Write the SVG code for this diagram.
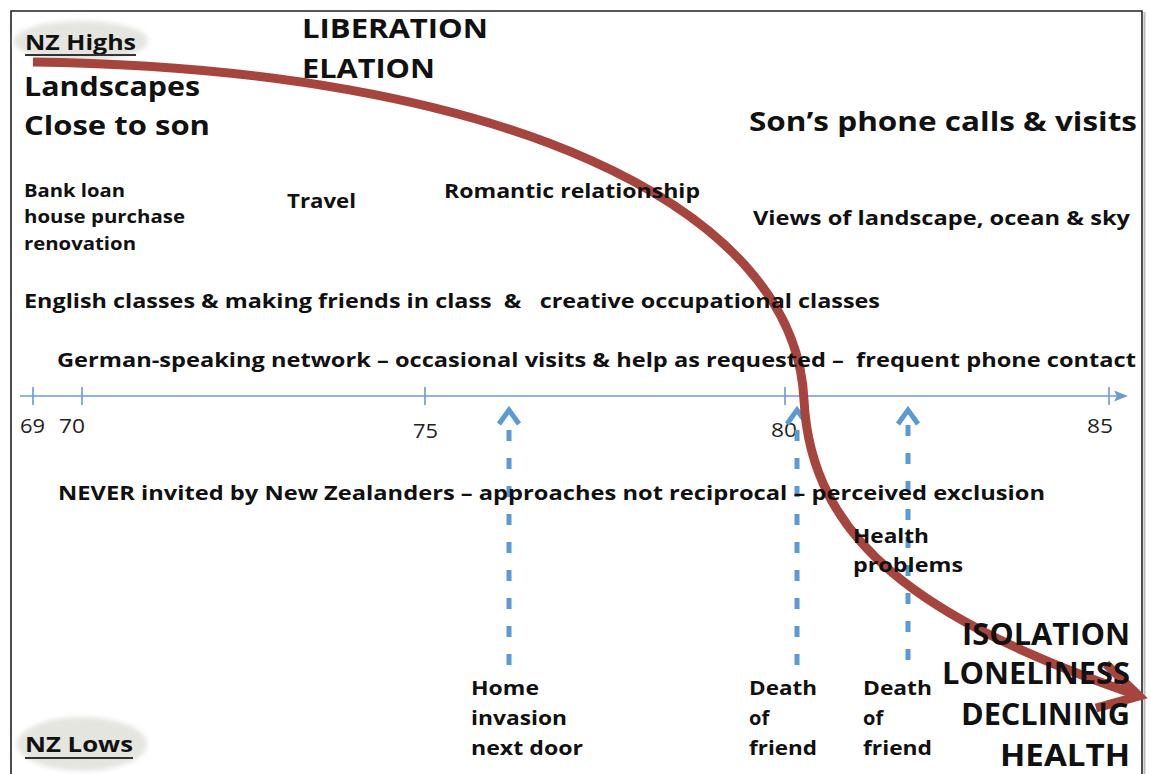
<svg xmlns="http://www.w3.org/2000/svg" width="1151" height="774" viewBox="0 0 1151 774">
  <style>
    text { font-family: "Open Sans", "Liberation Sans", sans-serif; font-weight: bold; fill: #111; }
    .xl { font-size: 27px; }
    .l { font-size: 21px; }
    .m { font-size: 20px; }
    .s { font-size: 18px; }
    .num { font-size: 20px; font-weight: normal; fill: #222; }
    .end { text-anchor: end; font-size: 30px; }
    .pre { white-space: pre; }
    .axis { stroke: #6a9bd3; stroke-width: 1.6; fill: none; }
    .dash { stroke: #5b9bd5; stroke-width: 5; stroke-dasharray: 11 17; fill: none; }
    .head { stroke: #5b9bd5; stroke-width: 5; fill: none; stroke-linejoin: miter; }
    .trend { stroke: #a5453e; stroke-width: 9; fill: none; }
    .badge { fill: #e4e5df; }
  </style>
  <defs>
    <filter id="soft" x="-20%" y="-40%" width="140%" height="180%">
      <feGaussianBlur stdDeviation="2.5"/>
    </filter>
  </defs>

  <rect width="1151" height="774" fill="#ffffff"/>

  <!-- frame, open at the bottom -->
  <path d="M1144.5,12 V790" stroke="#bbbbbb" stroke-width="2" fill="none"/>
  <path d="M11,790 V11 H1142 V790" stroke="#222" stroke-width="1.6" fill="none"/>

  <!-- badges -->
  <g id="nz-highs">
    <ellipse class="badge" cx="81" cy="41" rx="67" ry="20" filter="url(#soft)"/>
    <text x="25" y="50" class="l" textLength="111" lengthAdjust="spacingAndGlyphs">NZ Highs</text>
    <line x1="25" y1="55" x2="136" y2="55" stroke="#333" stroke-width="2"/>
  </g>
  <g id="nz-lows">
    <ellipse class="badge" cx="82" cy="744" rx="65" ry="27" filter="url(#soft)"/>
    <text x="25" y="752" class="l" textLength="108" lengthAdjust="spacingAndGlyphs">NZ Lows</text>
    <line x1="25" y1="758" x2="133" y2="758" stroke="#333" stroke-width="2"/>
  </g>

  <!-- age axis -->
  <g id="axis">
    <line class="axis" x1="20" y1="396" x2="1120" y2="396"/>
    <path d="M1128,396 L1114,390.5 L1117,396 L1114,401.5 Z" fill="#6a9bd3"/>
    <path class="axis" d="M33,387 V405 M82,387 V405 M425,387 V405 M785,387 V405 M1109,387 V405"/>
    <text class="num" x="20" y="433" textLength="25" lengthAdjust="spacingAndGlyphs">69</text>
    <text class="num" x="59" y="433" textLength="26" lengthAdjust="spacingAndGlyphs">70</text>
    <text class="num" x="413" y="438" textLength="25" lengthAdjust="spacingAndGlyphs">75</text>
    <text class="num" x="771" y="437" textLength="26" lengthAdjust="spacingAndGlyphs">80</text>
    <text class="num" x="1087" y="433" textLength="26" lengthAdjust="spacingAndGlyphs">85</text>
  </g>

  <!-- events -->
  <g id="connectors">
    <line class="dash" x1="509" y1="665" x2="509" y2="420"/>
    <path class="head" d="M499,424 L509,410 L519,424"/>
    <line class="dash" x1="797" y1="665" x2="797" y2="420"/>
    <path class="head" d="M787,424 L797,410 L807,424"/>
    <line class="dash" x1="908" y1="660" x2="908" y2="420"/>
    <path class="head" d="M898,424 L908,410 L918,424"/>
  </g>

  <!-- life trajectory -->
  <g id="trajectory">
    <path class="trend" d="M33,62 C500,68 795,205 804,400 C811,540 920,620 1134,694"/>
    <path class="trend" d="M1106,664 L1139,696 L1096,708" stroke-linejoin="miter"/>
  </g>

  <!-- upper (positive) labels -->
  <g id="highs-labels">
    <text x="302" y="38" class="xl" textLength="186" lengthAdjust="spacingAndGlyphs">LIBERATION</text>
    <text x="302" y="78" class="xl" textLength="133" lengthAdjust="spacingAndGlyphs">ELATION</text>
    <text x="24" y="96" class="xl" textLength="176" lengthAdjust="spacingAndGlyphs">Landscapes</text>
    <text x="24" y="135" class="xl" textLength="186" lengthAdjust="spacingAndGlyphs">Close to son</text>
    <text x="749" y="131" class="xl" textLength="388" lengthAdjust="spacingAndGlyphs">Son’s phone calls &amp; visits</text>
    <text x="24" y="197" class="s" textLength="101" lengthAdjust="spacingAndGlyphs">Bank loan</text>
    <text x="24" y="223" class="s" textLength="161" lengthAdjust="spacingAndGlyphs">house purchase</text>
    <text x="24" y="250" class="s" textLength="112" lengthAdjust="spacingAndGlyphs">renovation</text>
    <text x="287" y="208" class="m" textLength="69" lengthAdjust="spacingAndGlyphs">Travel</text>
    <text x="444" y="198" class="m" textLength="256" lengthAdjust="spacingAndGlyphs">Romantic relationship</text>
    <text x="753" y="225" class="m" textLength="377" lengthAdjust="spacingAndGlyphs">Views of landscape, ocean &amp; sky</text>
    <text x="24" y="308" class="m pre" textLength="856" lengthAdjust="spacingAndGlyphs">English classes &amp; making friends in class  &amp;   creative occupational classes</text>
    <text x="57" y="367" class="m pre" textLength="1079" lengthAdjust="spacingAndGlyphs">German-speaking network – occasional visits &amp; help as requested –  frequent phone contact</text>
  </g>

  <!-- lower (negative) labels -->
  <g id="lows-labels">
    <text x="58" y="500" class="m" textLength="987" lengthAdjust="spacingAndGlyphs">NEVER invited by New Zealanders – approaches not reciprocal – perceived exclusion</text>
    <text x="853" y="543" class="m" textLength="76" lengthAdjust="spacingAndGlyphs">Health</text>
    <text x="853" y="572" class="m" textLength="110" lengthAdjust="spacingAndGlyphs">problems</text>
    <text x="471" y="695" class="m" textLength="68" lengthAdjust="spacingAndGlyphs">Home</text>
    <text x="471" y="725" class="m" textLength="96" lengthAdjust="spacingAndGlyphs">invasion</text>
    <text x="471" y="755" class="m" textLength="112" lengthAdjust="spacingAndGlyphs">next door</text>
    <text x="749" y="695" class="m" textLength="68" lengthAdjust="spacingAndGlyphs">Death</text>
    <text x="749" y="725" class="m">of</text>
    <text x="749" y="755" class="m" textLength="68" lengthAdjust="spacingAndGlyphs">friend</text>
    <text x="863" y="695" class="m" textLength="69" lengthAdjust="spacingAndGlyphs">Death</text>
    <text x="863" y="725" class="m">of</text>
    <text x="863" y="755" class="m" textLength="69" lengthAdjust="spacingAndGlyphs">friend</text>
    <text x="1130" y="645" class="end" textLength="168" lengthAdjust="spacingAndGlyphs">ISOLATION</text>
    <text x="1130" y="684" class="end" textLength="188" lengthAdjust="spacingAndGlyphs">LONELINESS</text>
    <text x="1130" y="725" class="end" textLength="169" lengthAdjust="spacingAndGlyphs">DECLINING</text>
    <text x="1130" y="766" class="end" textLength="130" lengthAdjust="spacingAndGlyphs">HEALTH</text>
  </g>
</svg>
